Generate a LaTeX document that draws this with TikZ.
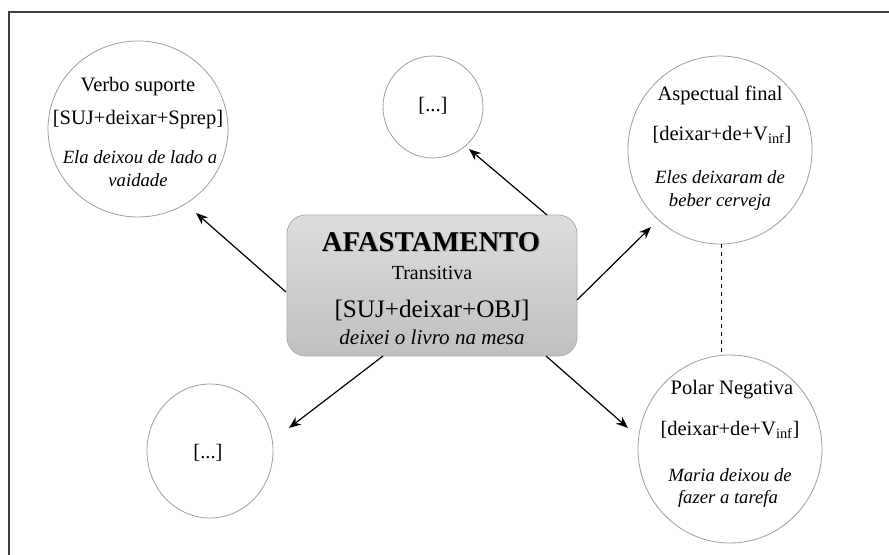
\documentclass[tikz,border=0pt]{standalone}
\usepackage{fontspec}
\setmainfont{Liberation Serif}
\usetikzlibrary{shapes.geometric,arrows.meta}
\begin{document}
\begin{tikzpicture}[x=0.75pt,y=-0.75pt,
  bub/.style={ellipse, draw=black!38, line width=0.6pt, inner sep=0pt},
  up/.style={inner sep=0pt, font=\fontsize{15.4}{18}\selectfont},
  it/.style={inner sep=0pt, font=\fontsize{14}{17}\selectfont\itshape},
  arr/.style={-{Stealth[length=9pt,width=7pt]}, line width=0.9pt, black},
  dashline/.style={dashed, line width=0.6pt, black}
  ]
\useasboundingbox (0,0) rectangle (889,555);
\draw[line width=1.1pt, black!75] (9,570) -- (9,12) -- (900,12);

% circles
\node[bub, minimum width=135pt, minimum height=132pt] (verbo) at (138,129) {};
\node[bub, minimum width=75pt, minimum height=76.5pt] (topdots) at (433,107) {};
\node[bub, minimum width=138pt, minimum height=141pt] (aspec) at (720,150) {};
\node[bub, minimum width=138pt, minimum height=141pt] (polar) at (730,449) {};
\node[bub, minimum width=94.5pt, minimum height=100.5pt] (botdots) at (210,451) {};

% centre box
\node[draw=black!32, line width=0.6pt, rounded corners=14pt, top color=black!13, bottom color=black!25,
      minimum width=217.5pt, minimum height=105.75pt] (box) at (432,285.5) {};
\node[inner sep=0pt, text=black!30, font=\fontsize{21.5}{24}\selectfont\bfseries] (t0) at (432.3,243.6) {AFASTAMENTO};
\node[inner sep=0pt, font=\fontsize{21.5}{24}\selectfont\bfseries] (t1) at (431,242) {AFASTAMENTO};
\node[inner sep=0pt, font=\fontsize{15}{18}\selectfont] (t2) at (432,273) {Transitiva};
\node[inner sep=0pt, font=\fontsize{18.9}{22}\selectfont] (t3) at (432,310) {[SUJ+deixar+OBJ]};
\node[inner sep=0pt, font=\fontsize{15.8}{18}\selectfont\itshape] (t4) at (432,337) {deixei o livro na mesa};

% circle texts
\node[up] (v1) at (138,87) {Verbo suporte};
\node[up] (v2) at (138,120) {[SUJ+deixar+Sprep]};
\node[it] (v3) at (140,157) {Ela deixou de lado a};
\node[it] (v4) at (138,180) {vaidade};

\node[up] (d1) at (433,106) {[...]};

\node[up] (a1) at (720,95) {Aspectual final};
\node[up] (a2) at (722,135) {[deixar+de+V\textsubscript{inf}]};
\node[it] (a3) at (720,177) {Eles deixaram de};
\node[it] (a4) at (720,202) {beber cerveja};

\node[up] (p1) at (732,390) {Polar Negativa};
\node[up] (p2) at (730,430) {[deixar+de+V\textsubscript{inf}]};
\node[it] (p3) at (730,475) {Maria deixou de};
\node[it] (p4) at (728,499) {fazer a tarefa};

\node[up] (d2) at (208,453) {[...]};

% connector end points
\coordinate (s1) at (286,292);
\coordinate (e1) at (196,213);
\coordinate (s2) at (547,215);
\coordinate (e2) at (469,149);
\coordinate (s3) at (577,300);
\coordinate (e3) at (651,227);
\coordinate (s4) at (383,356);
\coordinate (e4) at (289,428);
\coordinate (s5) at (546,356);
\coordinate (e5) at (628,428);
\coordinate (ds) at (721,244);
\coordinate (de) at (721,355);

\draw[arr] (s1) -- (e1);
\draw[arr] (s2) -- (e2);
\draw[arr] (s3) -- (e3);
\draw[arr] (s4) -- (e4);
\draw[arr] (s5) -- (e5);
\draw[dashline] (ds) -- (de);
\end{tikzpicture}
\end{document}
